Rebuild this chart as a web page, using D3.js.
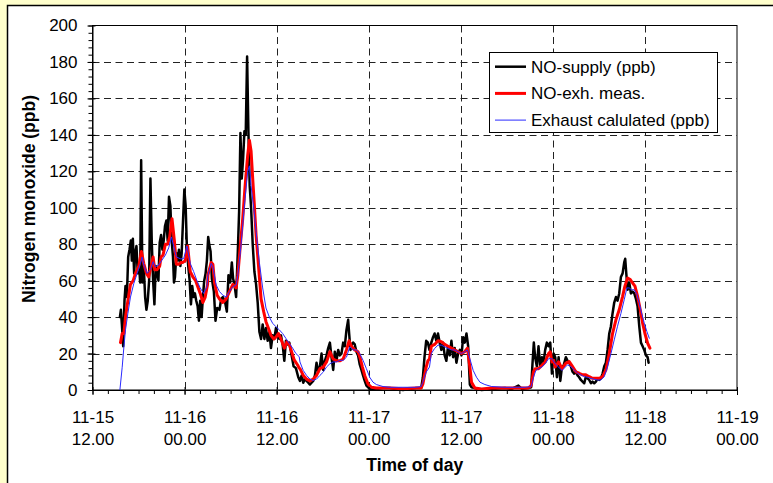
<!DOCTYPE html>
<html><head><meta charset="utf-8">
<script src="https://cdn.jsdelivr.net/npm/d3@7"></script>
<style>
html,body{margin:0;padding:0;background:#FFFFCC;}
svg{display:block;}
text{font-family:"Liberation Sans",Arial,sans-serif;fill:#000;}
</style></head><body>
<svg id="c" width="773" height="483"></svg>
<script>
// hours since 11-15 12:00, ppb
const supplyData = [
[3.57,40],[3.70,44],[3.83,36],[4.0,24],[4.17,49],[4.30,57],[4.48,51],[4.65,73],[4.82,77],[5.0,82],[5.13,71],[5.26,83],[5.43,64],[5.56,75],[5.73,79],[5.90,64],[6.08,68],[6.21,59],[6.34,126],[6.51,59],[6.68,68],[6.86,51],[7.03,44],[7.20,49],[7.38,60],[7.55,116],[7.72,82],[7.90,60],[8.07,47],[8.24,68],[8.42,64],[8.59,60],[8.76,81],[8.94,85],[9.11,77],[9.28,82],[9.45,90],[9.63,93],[9.80,82],[9.97,106],[10.15,101],[10.32,82],[10.49,73],[10.62,59],[10.75,62],[10.93,75],[11.1,71],[11.27,77],[11.45,68],[11.62,75],[11.79,92],[11.97,110],[12.14,101],[12.31,77],[12.48,68],[12.66,60],[12.83,47],[13.0,57],[13.18,51],[13.35,53],[13.52,49],[13.70,46],[13.87,38],[14.04,49],[14.22,40],[14.39,51],[14.56,60],[14.74,64],[14.91,71],[15.08,84],
[15.21,80],[15.39,76],[15.56,61],[15.82,54],[16.03,38],[16.25,45],[16.55,44],[16.77,50],[16.99,51],[17.29,48],[17.51,43],[17.72,63],[17.94,59],[18.16,70],[18.33,61],[18.50,58],[18.72,51],[18.94,76],[19.11,98],[19.28,141],[19.45,116],[19.63,127],[19.80,142],[19.97,140],[20.15,183],[20.32,142],[20.49,112],[20.67,100],[20.88,80],[21.10,65],[21.32,58],[21.53,48],[21.75,32],[21.97,28],[22.18,36],[22.40,28],[22.61,34],[22.83,27],[23.05,32],[23.26,23],[23.48,30],[23.70,28],[23.91,34],[24.13,30],[24.35,28],[24.56,30],[24.78,25],[25.0,16],[25.21,27],[25.43,25],[25.65,26],[25.95,19],[26.21,13],[26.51,12],
[26.82,7],[27.04,5],[27.26,8],[27.47,4],[27.69,6],[27.90,5],[28.12,4],[28.34,3],[28.55,4],[28.77,5],[28.99,8],[29.20,15],[29.42,10],[29.64,13],[29.85,20],[30.07,11],[30.29,16],[30.50,19],[30.72,23],[30.94,26],[31.15,18],[31.37,11],[31.58,21],[31.80,16],[32.02,22],[32.23,19],[32.45,20],[32.67,26],[32.88,24],[33.10,33],[33.32,38.5],[33.45,31],[33.62,22],[33.79,25],[33.97,26],[34.18,25],[34.40,21],[34.61,19],[34.83,14],[35.05,11],[35.26,8],[35.48,5],[35.70,2.4],[36.13,0.6],[37.0,0.6],[37.86,1.1],[38.73,1.1],[39.59,0.6],[40.46,0],[41.32,0.6],[42.19,1.1],[42.84,1.1],[43.06,7],[43.27,18],[43.49,27],[43.71,26],[43.92,22],
[44.16,26],[44.38,29],[44.59,31],[44.81,27],[45.03,31],[45.25,26],[45.47,22],[45.69,26],[45.90,19],[46.12,16],[46.34,24],[46.56,19],[46.78,27],[47.0,18],[47.21,23],[47.43,15],[47.65,20],[47.87,22],[48.09,19],[48.31,29],[48.52,26],[48.74,31],[48.96,24],[49.18,3],[49.40,1.5],[49.83,1.1],[50.71,0],[52.02,0.6],[53.76,1.1],[54.64,0.6],[55.51,2.4],[55.95,0.6],[56.82,1.1],[57.17,1.5],[57.34,14],[57.52,26],[57.69,18],[57.91,13],[58.13,24],[58.35,13],[58.57,18],[58.79,15],[59.0,22],[59.22,26],[59.44,24],[59.66,26],[59.88,9],[60.10,20],[60.31,18],[60.53,7],[60.75,18],[60.97,5],[61.19,13],[61.41,13.5],
[61.70,18],[61.91,16],[62.13,15],[62.35,13],[62.57,10],[62.78,9],[63.0,10],[63.22,8],[63.43,7],[63.65,5.5],[63.87,4.6],[64.09,3.7],[64.30,7.3],[64.52,6.4],[64.74,5.5],[64.96,3.7],[65.17,4.6],[65.39,3.7],[65.61,4.6],[65.83,6.4],[66.04,5.5],[66.26,6.4],[66.48,9],[66.70,13],[66.91,15],[67.13,22],[67.35,31],[67.57,35],[67.78,42],[68.0,48],[68.22,51],[68.43,49],[68.65,53],[68.87,62],[69.09,64],[69.30,70],[69.43,72],[69.57,64],[69.74,55],[69.96,59],[70.17,53],[70.39,54],[70.61,53],[70.83,50],[71.04,46],[71.26,35],[71.48,26],[71.70,24],[71.91,22],[72.13,19],[72.35,18],[72.48,15]
];
const measuredData = [
[3.65,26],[3.87,31],[4.09,31],[4.30,40],[4.61,49],[4.95,58],[5.30,60],[5.60,64],[6.03,68],[6.38,76],[6.68,69.5],[7.03,64],[7.33,62],[7.64,68],[7.90,73],[8.11,66],[8.42,66],[8.76,68],[8.94,73],[9.19,74],[9.50,80],[9.80,80],[10.06,84],[10.36,94],[10.67,82],[10.93,69],[11.23,69],[11.53,70],[11.79,70],[12.10,71],[12.40,79],[12.74,65],[13.09,62],[13.44,60],[13.70,57],[14.04,53],[14.39,48],[14.69,51],[15.0,58],
[15.04,63],[15.47,70],[15.69,69],[15.90,59],[16.25,52],[16.55,50],[16.99,48],[17.42,50],[17.85,54],[18.29,58],[18.72,56],[18.94,63],[19.28,80],[19.58,94],[19.89,112],[20.23,129],[20.45,137],[20.67,131],[20.88,116],[21.10,101],[21.32,85],[21.62,69],[21.97,50],[22.31,43],[22.61,37.5],[22.92,34],[23.26,30],[23.61,28],[23.91,29],[24.22,31],[24.56,28],[25.0,23],[25.34,26.5],[25.65,25],[25.95,21],[26.29,16.5],[26.73,13.7],[26.94,12],
[27.04,11.7],[27.47,8],[27.90,6],[28.34,5],[28.77,6],[29.20,8],[29.64,11.7],[30.07,12.6],[30.50,15.4],[30.94,21],[31.15,19],[31.37,17],[31.80,16],[32.23,16],[32.67,17],[33.10,22],[33.45,27],[33.75,24],[34.18,22],[34.61,21],[34.92,17],[35.18,12.6],[35.48,8],[35.91,3.3],[36.35,1.5],[37.0,1.1],[38.73,1.1],[40.46,0.7],[42.19,1.1],[42.84,1.1],[43.06,3.3],[43.27,8],[43.49,12.6],[43.71,16],[43.92,17],
[44.16,24],[44.59,25],[45.03,27],[45.47,26.5],[45.90,25],[46.34,24],[46.78,23],[47.21,22],[47.65,21],[48.09,20],[48.52,21],[48.87,23],[49.18,12.6],[49.40,4.3],[49.83,1.1],[50.71,0.6],[52.02,1.1],[53.76,1.1],[55.51,1.1],[56.82,1.1],[57.17,2.4],[57.48,10],[57.69,11.7],[58.13,11.7],[58.57,13.5],[59.0,15.4],[59.44,20],[59.66,21],[59.88,15.4],[60.10,16.3],[60.31,12.6],[60.75,15.4],[61.19,11.7],
[61.70,14.7],[62.13,15.6],[62.57,12.8],[63.0,10],[63.43,9.2],[63.87,8.3],[64.30,8.3],[64.74,7.3],[65.17,6.4],[65.61,6.4],[66.04,6.4],[66.48,7.3],[66.91,11],[67.35,20],[67.78,31],[68.22,38.5],[68.65,44],[69.09,51.4],[69.39,57],[69.74,61.5],[70.09,60.6],[70.39,58.7],[70.70,57],[71.04,51.4],[71.39,44],[71.70,36.7],[72.0,31],[72.35,25.7],[72.65,23]
];
const calculatedData = [
[3.57,0],[3.87,12.5],[4.09,23.5],[4.30,33],[4.61,42],[4.95,51],[5.39,58.5],[5.82,64],[6.25,69.5],[6.47,73],[6.68,68.6],[7.12,64],[7.55,66],[7.90,70.4],[8.20,67.6],[8.63,68.6],[9.06,71.3],[9.50,74],[9.93,78],[10.28,84],[10.58,79],[10.93,73],[11.45,72],[11.88,72],[12.31,79],[12.74,69.5],[13.18,65],[13.61,60],[14.04,56],[14.48,53],[14.91,56.6],
[15.04,63],[15.47,69.5],[15.69,67.6],[16.12,57.6],[16.55,54],[16.99,52],[17.42,51],[17.85,54],[18.29,56.7],[18.72,57.6],[18.94,63],[19.28,76],[19.58,90.5],[19.89,105],[20.23,120],[20.45,123],[20.67,112],[21.01,100],[21.32,87],[21.75,70],[22.18,56],[22.61,45],[23.05,40],[23.48,36.6],[23.91,34.7],[24.35,33],[24.78,31],[25.21,28.3],[25.65,25.6],[26.08,23],[26.51,20],[26.94,18.3],
[27.04,15.4],[27.47,10.7],[27.90,8],[28.34,6],[28.77,5.2],[29.20,6],[29.64,8],[30.07,9.8],[30.50,12.6],[30.94,14.4],[31.37,15.4],[31.80,15.4],[32.23,16.3],[32.67,16.3],[33.10,18],[33.53,23.7],[33.97,22],[34.40,22],[34.83,20],[35.26,16.3],[35.70,11.7],[36.13,7],[36.56,4.3],[37.0,3],[37.86,1.9],[38.73,1.5],[40.46,1.5],[42.19,1.5],[42.84,1.9],[43.06,4.3],[43.49,9.8],[43.92,12.6],
[44.16,20],[44.59,22.8],[45.03,24.6],[45.47,24.6],[45.90,23.7],[46.34,22.8],[46.78,22],[47.21,22],[47.65,21],[48.09,20],[48.52,21],[48.87,22],[49.18,17.2],[49.62,10.7],[50.05,7],[50.49,4.3],[51.14,3],[52.02,1.9],[53.76,1.5],[56.38,1.5],[57.17,1.9],[57.48,7],[57.78,10.7],[58.13,11.7],[58.57,12.6],[59.0,14.4],[59.44,17.2],[59.88,17.2],[60.31,14.4],[60.75,12.6],[61.19,10.7],
[61.91,13.8],[62.35,12.8],[62.78,11],[63.22,9.2],[63.65,8.3],[64.09,7.3],[64.52,7],[64.96,6.4],[65.39,5.9],[65.83,5.5],[66.26,5.5],[66.70,7.3],[67.13,12.8],[67.57,20],[68.0,27.5],[68.43,35],[68.87,42],[69.30,49.5],[69.65,56],[69.96,56],[70.26,55],[70.61,55],[70.96,52.3],[71.26,47.7],[71.57,42.2],[71.91,36.7],[72.26,32],[72.57,28.4]
];
const yTickValues = [0,20,40,60,80,100,120,140,160,180,200];
const xTickHours = [0,12,24,36,48,60,72,84];
const xTickDays = ["11-15","11-16","11-16","11-17","11-17","11-18","11-18","11-19"];
const xTickTimes = ["12.00","00.00","12.00","00.00","12.00","00.00","12.00","00.00"];
const seriesNames = ["NO-supply (ppb)","NO-exh. meas.","Exhaust calulated (ppb)"];
const seriesColors = ["#000000","#FF0000","#2A2AFF"];
const seriesWidths = [2.5,3,1];

const FONT = '"Liberation Sans",Arial,sans-serif';
const svg = d3.select("#c");
svg.append("rect").attr("width",773).attr("height",483).attr("fill","#FFFFCC");
svg.append("rect").attr("x",7.5).attr("y",5.5).attr("width",800).attr("height",500)
  .attr("fill","#fff").attr("stroke","#000").attr("stroke-width",1.5);

const m = {l:92.5, r:737, t:25.5, b:390};
const x = d3.scaleLinear().domain([0,84]).range([m.l,m.r]);
const y = d3.scaleLinear().domain([0,200]).range([m.b,m.t]);

// grid
const grid = svg.append("g").attr("stroke","#222").attr("stroke-width",1).attr("stroke-dasharray","7,4.5");
grid.selectAll("line.h").data(yTickValues.filter(v=>v>0&&v<200)).join("line")
  .attr("x1",m.l).attr("x2",m.r).attr("y1",d=>Math.round(y(d))+0.5).attr("y2",d=>Math.round(y(d))+0.5);
grid.selectAll("line.v").data(xTickHours.filter(v=>v>0&&v<84)).join("line")
  .attr("class","v")
  .attr("y1",m.t).attr("y2",m.b).attr("x1",d=>Math.round(x(d))+0.5).attr("x2",d=>Math.round(x(d))+0.5);

// border
svg.append("rect").attr("x",m.l).attr("y",m.t).attr("width",m.r-m.l).attr("height",m.b-m.t)
  .attr("fill","none").attr("stroke","#000").attr("stroke-width",1);

// series
const line = d3.line().x(d=>x(d[0])).y(d=>y(d[1]));
[supplyData,measuredData,calculatedData].forEach((data,i)=>{
  svg.append("path").datum(data).attr("d",line).attr("fill","none")
    .attr("stroke",seriesColors[i]).attr("stroke-width",seriesWidths[i])
    .attr("stroke-linejoin","round").attr("stroke-linecap","round");
});

// y axis
const yMinor = svg.append("g").attr("transform",`translate(${m.l},0)`)
  .call(d3.axisLeft(y).tickValues(d3.range(0,201,4)).tickSize(4).tickSizeOuter(0).tickFormat(""));
yMinor.select(".domain").remove();
const yAx = svg.append("g").attr("transform",`translate(${m.l},0)`)
  .call(d3.axisLeft(y).tickValues(yTickValues).tickSize(5).tickSizeOuter(0).tickPadding(10));
yAx.attr("font-size",17).attr("font-family",FONT);
yAx.selectAll(".tick line").attr("x1",3);
yAx.select(".domain").attr("stroke","#000");

// x axis
const xMinor = svg.append("g").attr("transform",`translate(0,${m.b})`)
  .call(d3.axisBottom(x).tickValues(d3.range(0,85,2)).tickSize(4).tickSizeOuter(0).tickFormat(""));
xMinor.select(".domain").remove();
const xAx = svg.append("g").attr("transform",`translate(0,${m.b})`)
  .call(d3.axisBottom(x).tickValues(xTickHours).tickSize(5).tickSizeOuter(0).tickFormat(""));
xAx.selectAll(".tick line").attr("y1",-3);
xAx.selectAll(".tick text").remove();
xAx.selectAll(".tick").each(function(d,i){
  const t = d3.select(this).append("text").attr("text-anchor","middle")
    .attr("font-size",17).attr("font-family",FONT).attr("fill","#000");
  t.append("tspan").attr("x",0).attr("y",33).text(xTickDays[i]);
  t.append("tspan").attr("x",0).attr("y",54.5).text(xTickTimes[i]);
});

// titles
svg.append("text").attr("x",(m.l+m.r)/2).attr("y",471).attr("text-anchor","middle")
  .attr("font-size",17.5).attr("font-weight","bold").text("Time of day");
svg.append("text").attr("transform","translate(35,199) rotate(-90)").attr("text-anchor","middle")
  .attr("font-size",17.5).attr("font-weight","bold").text("Nitrogen monoxide (ppb)");

// legend
const lg = svg.append("g");
lg.append("rect").attr("x",489.5).attr("y",52.5).attr("width",228).attr("height",80)
  .attr("fill","#fff").attr("stroke","#000").attr("stroke-width",1);
seriesNames.forEach((name,i)=>{
  const cy = 66.7 + i*26.7;
  lg.append("line").attr("x1",495).attr("x2",526).attr("y1",cy).attr("y2",cy)
    .attr("stroke",seriesColors[i]).attr("stroke-width",seriesWidths[i]);
  lg.append("text").attr("x",531).attr("y",cy).attr("dy","0.35em")
    .attr("font-size",17).text(name);
});
</script>
</body></html>
